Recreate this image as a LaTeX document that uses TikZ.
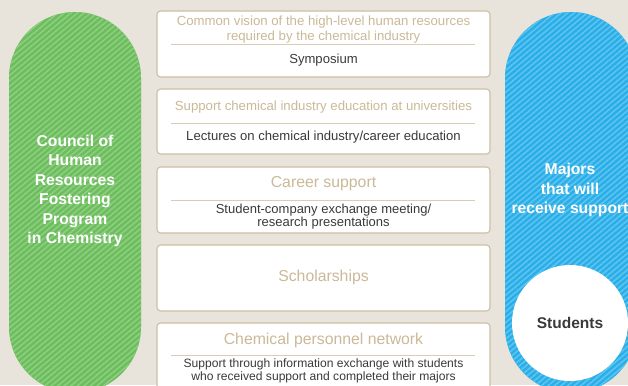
\documentclass[tikz,border=0pt]{standalone}
\usepackage{fontspec}
\setmainfont{Liberation Sans}
\usetikzlibrary{patterns.meta}
\definecolor{bg}{HTML}{E9E4DB}
\definecolor{boxline}{HTML}{CDBEA3}
\definecolor{headc}{HTML}{CBB998}
\definecolor{sepc}{HTML}{D9CDB8}
\definecolor{bodyc}{HTML}{3A3A3A}
\definecolor{gbase}{HTML}{6CBD5E}
\definecolor{gstripe}{HTML}{8DCF7F}
\definecolor{bbase}{HTML}{2AAEE8}
\definecolor{bstripe}{HTML}{5CC4F0}
\begin{document}
\begin{tikzpicture}[x=1pt,y=-1pt,
  pill/.style={rectangle, rounded corners=66pt, minimum width=132pt, minimum height=381pt, inner sep=0pt},
  greenpill/.style={pill, preaction={fill=gbase}, pattern={Lines[angle=40,distance=4.2pt,line width=1.6pt]}, pattern color=gstripe},
  bluepill/.style={pill, preaction={fill=bbase}, pattern={Lines[angle=40,distance=4.2pt,line width=1.6pt]}, pattern color=bstripe},
  pilltext/.style={text=white, font=\fontsize{15.7}{19.5}\selectfont\bfseries, align=center, inner sep=0pt},
  infobox/.style={draw=boxline, line width=1.1pt, fill=white, rounded corners=3.5pt, minimum width=333pt, inner sep=0pt},
  headtext/.style={text=headc, font=\fontsize{13.2}{15}\selectfont, align=center, inner sep=0pt},
  bighead/.style={text=headc, font=\fontsize{15.8}{18}\selectfont, align=center, inner sep=0pt},
  bodytext/.style={text=bodyc, font=\fontsize{13.1}{14}\selectfont, align=center, inner sep=0pt},
  midbody/.style={text=bodyc, font=\fontsize{13}{13}\selectfont, align=center, inner sep=0pt},
  smallbody/.style={text=bodyc, font=\fontsize{12.1}{13}\selectfont, align=center, inner sep=0pt},
  sepline/.style={draw=sepc, line width=1pt}
]
\useasboundingbox (0,0) rectangle (628,385);
\clip (0,0) rectangle (628,385);
\fill[bg] (0,0) rectangle (628,385);

% left pill
\node[greenpill] (council) at (75,202.5) {};
\node[pilltext] (counciltext) at (75,191) {Council of\\Human\\Resources\\Fostering\\Program\\in Chemistry};

% right pill
\node[bluepill] (majors) at (571,202.5) {};
\node[pilltext] (majorstext) at (570,190) {Majors\\that will\\receive support};
\node[circle, fill=white, minimum size=116pt, inner sep=0pt, text=bodyc, font=\fontsize{15.5}{18}\selectfont\bfseries] (students) at (570,323) {Students};

% boxes
\node[infobox, minimum height=66pt] (b1) at (323.5,44) {};
\node[infobox, minimum height=65pt] (b2) at (323.5,121.5) {};
\node[infobox, minimum height=66pt] (b3) at (323.5,200) {};
\node[infobox, minimum height=66pt] (b4) at (323.5,278) {};
\node[infobox, minimum height=74pt] (b5) at (323.5,360) {};

% box 1
\node[headtext] (h1) at (323.5,29.5) {Common vision of the high-level human resources\\required by the chemical industry};
\draw[sepline] (171,45) -- (475,45);
\node[bodytext] (t1) at (323.5,60) {Symposium};

% box 2
\node[headtext] (h2) at (323.5,107) {Support chemical industry education at universities};
\draw[sepline] (171,123) -- (475,123);
\node[bodytext] (t2) at (323.5,137.5) {Lectures on chemical industry/career education};

% box 3
\node[bighead] (h3) at (323.5,184) {Career support};
\draw[sepline] (171,200) -- (475,200);
\node[midbody] (t3) at (323.5,216.5) {Student-company exchange meeting/\\research presentations};

% box 4
\node[bighead] (h4) at (323.5,277.5) {Scholarships};

% box 5
\node[bighead] (h5) at (323.5,340) {Chemical personnel network};
\draw[sepline] (171,355) -- (475,355);
\node[smallbody] (t5) at (323.5,371) {Support through information exchange with students\\who received support and completed their majors};
\end{tikzpicture}
\end{document}
